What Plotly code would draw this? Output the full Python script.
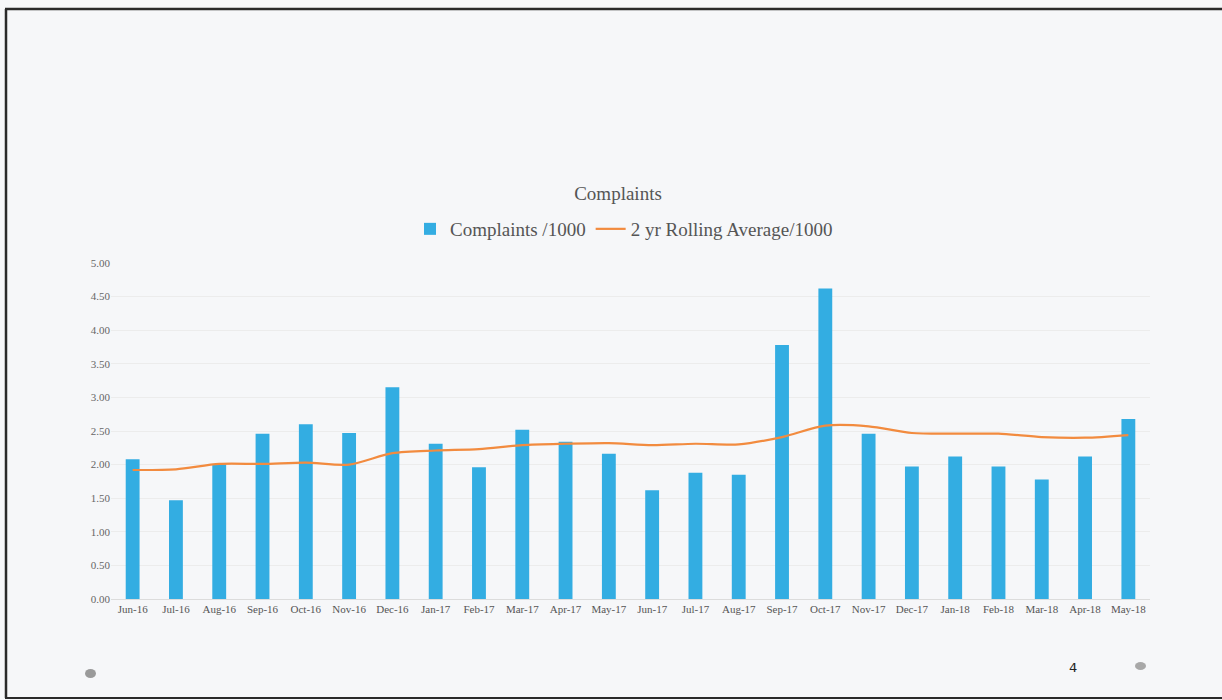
import plotly.graph_objects as go

months = ["Jun-16", "Jul-16", "Aug-16", "Sep-16", "Oct-16", "Nov-16", "Dec-16",
          "Jan-17", "Feb-17", "Mar-17", "Apr-17", "May-17", "Jun-17", "Jul-17",
          "Aug-17", "Sep-17", "Oct-17", "Nov-17", "Dec-17", "Jan-18", "Feb-18",
          "Mar-18", "Apr-18", "May-18"]
complaints = [2.08, 1.47, 2.00, 2.46, 2.60, 2.47, 3.15, 2.31, 1.96, 2.52, 2.34, 2.16,
              1.62, 1.88, 1.85, 3.78, 4.62, 2.46, 1.97, 2.12, 1.97, 1.78, 2.12, 2.68]
rolling_avg = [1.92, 1.93, 2.01, 2.01, 2.03, 2.00, 2.17, 2.21, 2.23, 2.29, 2.31, 2.32,
               2.29, 2.31, 2.30, 2.41, 2.58, 2.57, 2.47, 2.46, 2.46, 2.41, 2.40, 2.44]

W, H = 1222, 700
L, R, T, B = 111, 1150, 263, 599

def px_x(x):
    return (x - L) / (R - L)

def px_y(y):
    return (B - y) / (B - T)

serif = "Liberation Serif, DejaVu Serif, serif"

fig = go.Figure()
fig.add_trace(go.Bar(
    x=months, y=complaints, name="Complaints /1000",
    marker=dict(color="#33ade2", line=dict(width=0)),
))
fig.add_trace(go.Scatter(
    x=months, y=rolling_avg, name="2 yr Rolling Average/1000",
    mode="lines", line=dict(color="#f28b3f", width=2.2, shape="spline", smoothing=0.8),
))

shapes = [
    dict(type="line", xref="paper", yref="paper", x0=px_x(5), x1=px_x(1222), y0=px_y(9), y1=px_y(9),
         line=dict(color="#2a2a2a", width=2.5)),
    dict(type="line", xref="paper", yref="paper", x0=px_x(6), x1=px_x(6), y0=px_y(9), y1=px_y(698),
         line=dict(color="#2a2a2a", width=2.5)),
    dict(type="line", xref="paper", yref="paper", x0=px_x(5), x1=px_x(1222), y0=px_y(698), y1=px_y(698),
         line=dict(color="#2a2a2a", width=2)),
    dict(type="circle", xref="paper", yref="paper", x0=px_x(85), x1=px_x(96), y0=px_y(669), y1=px_y(678),
         fillcolor="#9a9a9a", line=dict(width=0)),
    dict(type="circle", xref="paper", yref="paper", x0=px_x(1135), x1=px_x(1146), y0=px_y(662), y1=px_y(670),
         fillcolor="#a8a8a8", line=dict(width=0)),
]

fig.update_layout(
    width=W, height=H,
    margin=dict(l=L, r=W - R, t=T, b=H - B),
    paper_bgcolor="#f6f7f9",
    plot_bgcolor="rgba(0,0,0,0)",
    bargap=0.68,
    font=dict(family=serif, color="#444444"),
    title=dict(text="Complaints", x=618 / W, xanchor="center", xref="container",
               y=1 - 193 / H, yanchor="middle", yref="container",
               font=dict(family=serif, size=19, color="#555555")),
    legend=dict(orientation="h", x=px_x(624), xanchor="center", y=px_y(229), yanchor="middle",
                font=dict(family=serif, size=19, color="#555555"), bgcolor="rgba(0,0,0,0)",
                itemwidth=30, traceorder="normal"),
    xaxis=dict(type="category", range=[-0.5, len(months) - 0.5], showgrid=False,
               showline=True, linecolor="#dcdcdc", linewidth=1, ticks="",
               tickfont=dict(family=serif, size=11, color="#555555"), tickangle=0),
    yaxis=dict(range=[0, 5], dtick=0.5, tickformat=".2f", showgrid=True, gridcolor="#ececec",
               gridwidth=1, zeroline=False, showline=False, ticks="",
               tickfont=dict(family=serif, size=11, color="#666666")),
    shapes=shapes,
    annotations=[dict(text="4", xref="paper", yref="paper", x=px_x(1073), y=px_y(667),
                      xanchor="center", yanchor="middle",
                      showarrow=False, font=dict(family="DejaVu Sans, sans-serif", size=13, color="#222222"))],
    showlegend=True,
)

fig.write_html("out.html", config={"displayModeBar": False},
               post_script="document.body.style.margin='0';document.body.style.overflow='hidden';")
